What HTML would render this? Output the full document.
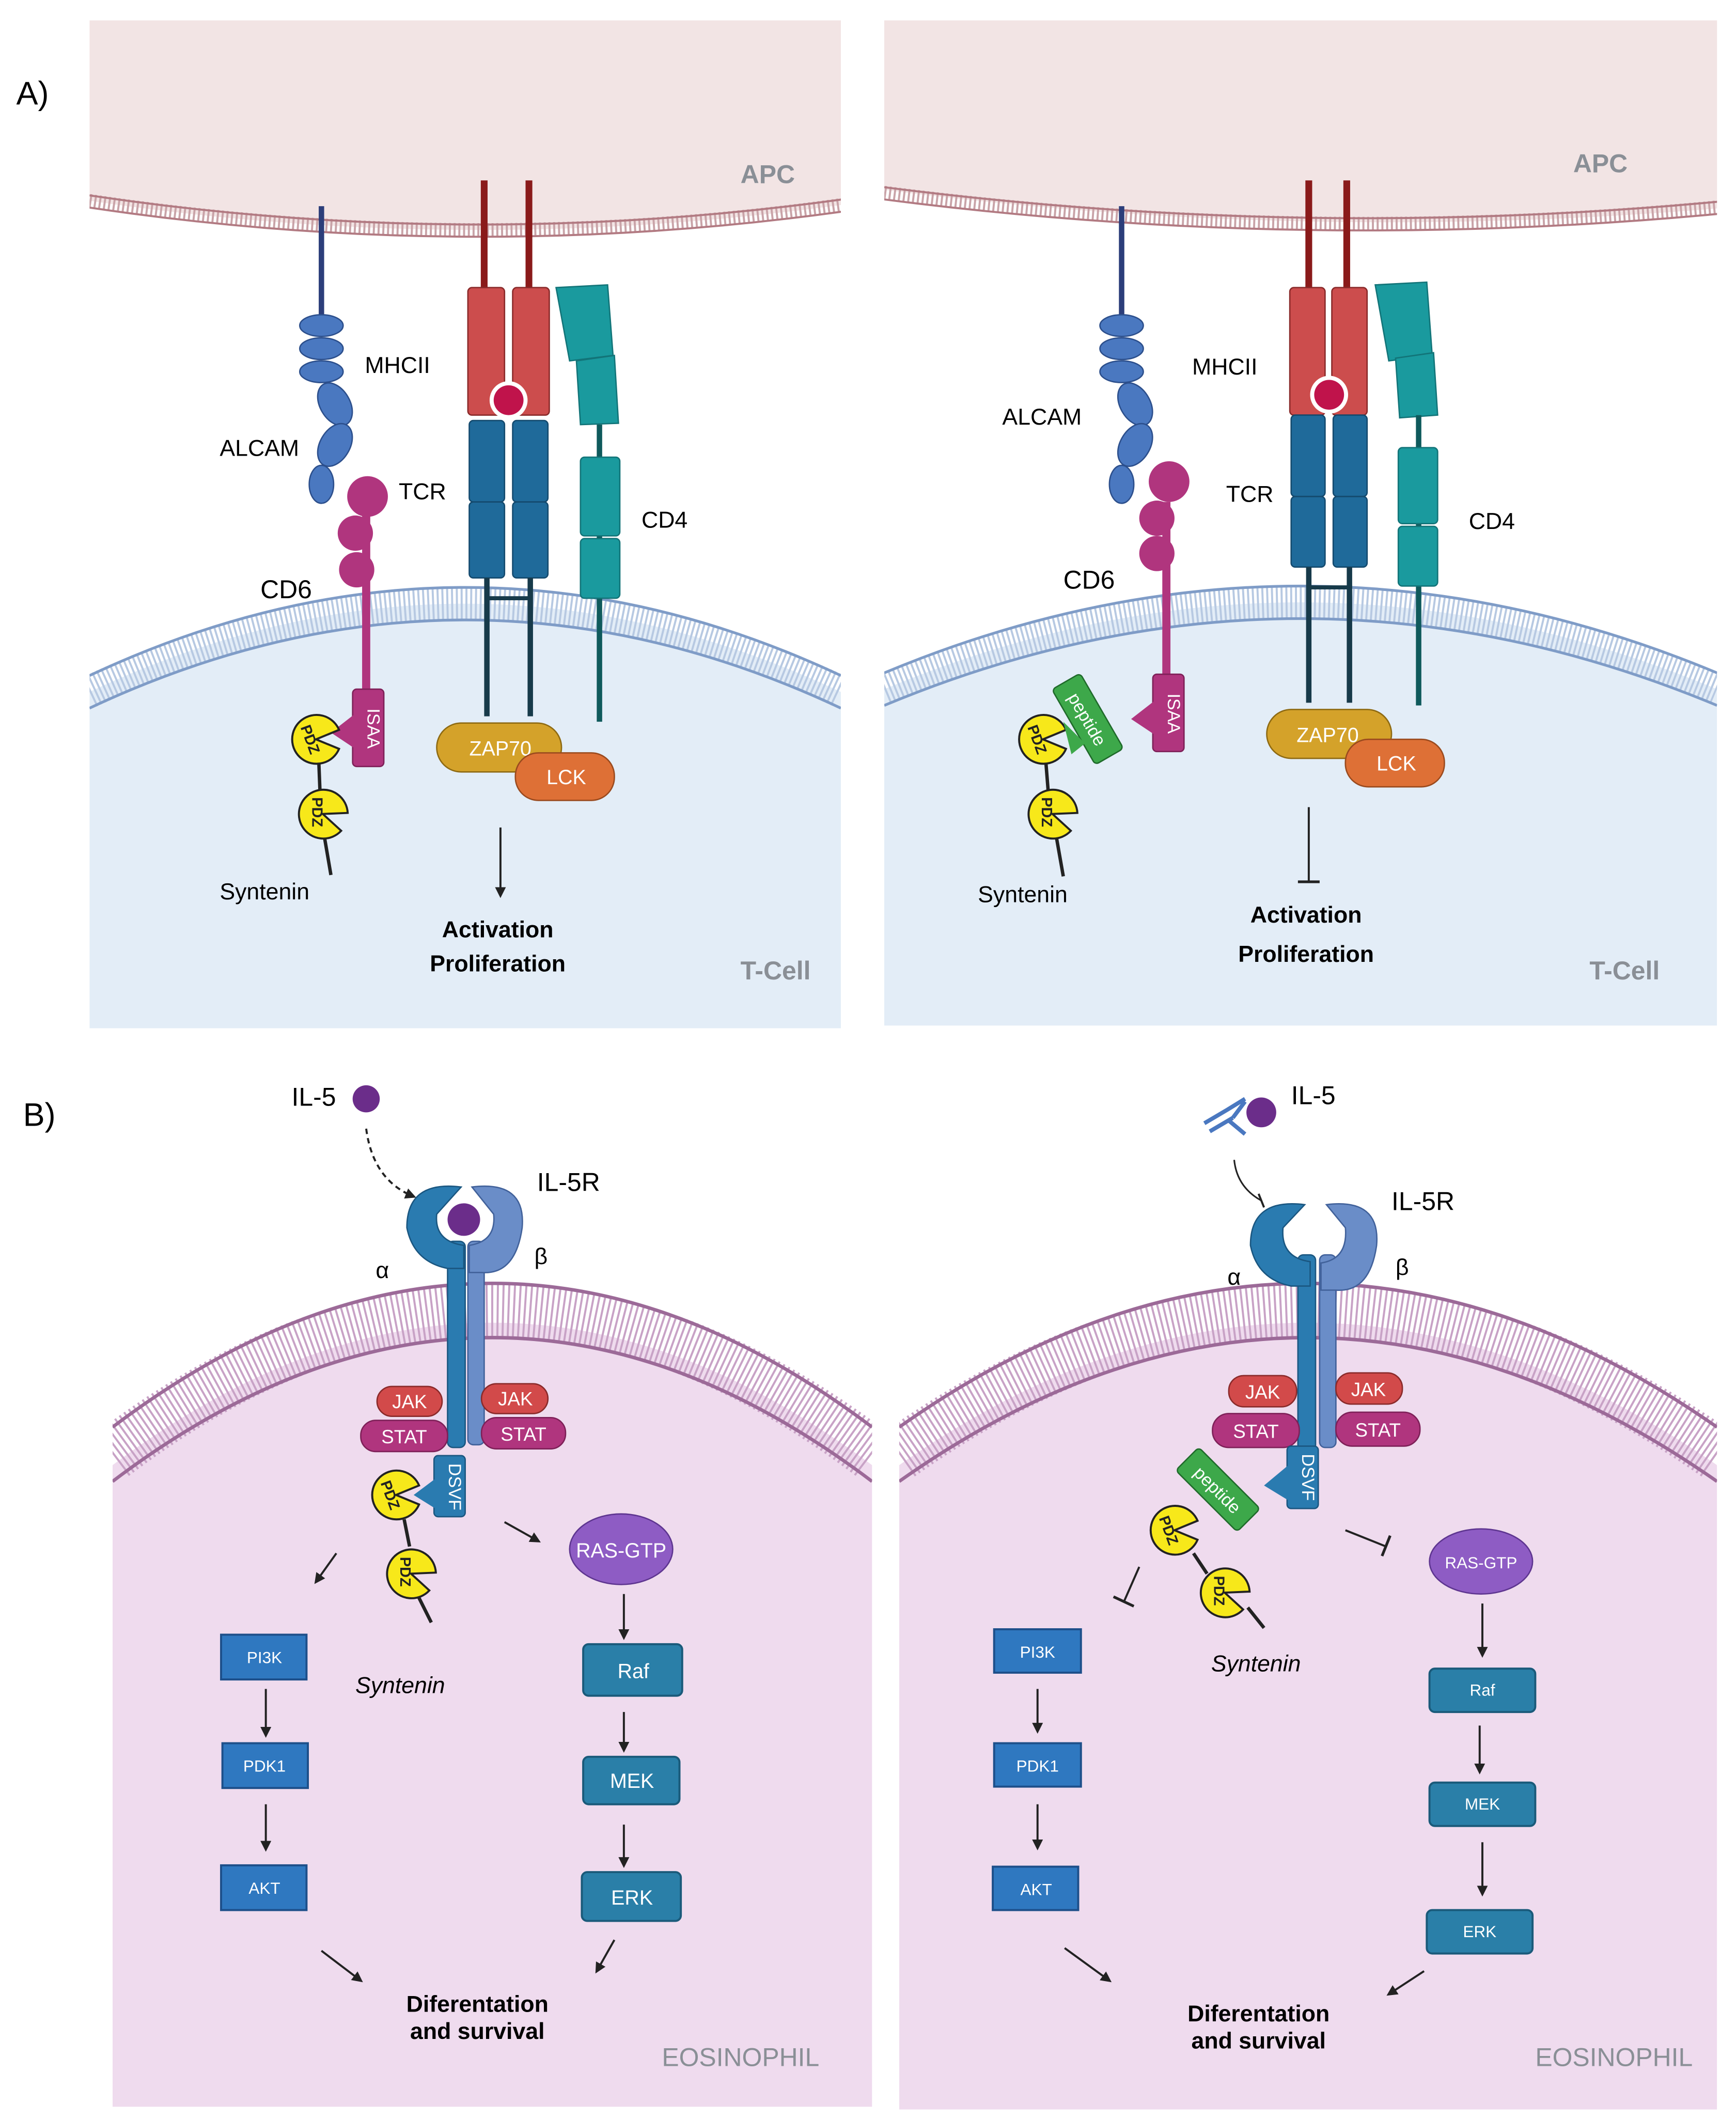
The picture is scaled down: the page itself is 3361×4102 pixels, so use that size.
<!DOCTYPE html>
<html><head><meta charset="utf-8"><style>
html,body{margin:0;padding:0;background:#fff;}
svg{display:block;}
text{font-family:"Liberation Sans",sans-serif;}
</style></head><body>
<svg width="3361" height="4102" viewBox="0 0 1280 1562" preserveAspectRatio="none" xmlns="http://www.w3.org/2000/svg">
<defs>
<g id="pdz">
  <path d="M0,0 L17,-7 A18,18 0 1 0 17,7 Z" fill="#f7e81a" stroke="#222" stroke-width="1.5"/>
  <text x="-4" y="4" font-size="11" font-weight="bold" fill="#222" transform="rotate(70 -4 0)" text-anchor="middle">PDZ</text>
</g>
<marker id="ar" markerWidth="8" markerHeight="8" refX="6" refY="4" orient="auto" markerUnits="userSpaceOnUse"><path d="M0,0 L8,4 L0,8 Z" fill="#222"/></marker>
<clipPath id="cA1"><rect x="66" y="15" width="554" height="743"/></clipPath>
<clipPath id="cA2"><rect x="652" y="15" width="614" height="741"/></clipPath>
<clipPath id="cB1"><rect x="83" y="800" width="560" height="753"/></clipPath>
<clipPath id="cB2"><rect x="663" y="800" width="603" height="755"/></clipPath>
</defs>

<!-- ============ PANEL A LEFT ============ -->
<g clip-path="url(#cA1)">
<path d="M66,510 Q343,380 620,510 V758 H66 Z" fill="#e3edf7"/>
<path d="M66,15 H628 V150 Q347,190 66,148 Z" fill="#f2e4e4"/>
<path d="M66,148 Q347,190 628,150" fill="none" stroke="#c9a3a8" stroke-width="10" stroke-dasharray="1.5 2"/>
<path d="M66,144 Q347,186 628,146" fill="none" stroke="#b27a82" stroke-width="1.5"/>
<path d="M66,153 Q347,195 628,155" fill="none" stroke="#b27a82" stroke-width="1.5"/>
<path d="M66,510 Q343,380 620,510" fill="none" stroke="#b7c9e2" stroke-width="24" stroke-dasharray="1.5 2"/>
<path d="M66,498 Q343,368 620,498" fill="none" stroke="#7f9cc7" stroke-width="2"/>
<path d="M66,522 Q343,392 620,522" fill="none" stroke="#7f9cc7" stroke-width="2"/>
</g>

<g>
<line x1="237" y1="152" x2="237" y2="232" stroke="#2c3e7a" stroke-width="4"/>
<g fill="#4a78c0" stroke="#2c4f8c" stroke-width="1">
<ellipse cx="237" cy="240" rx="16" ry="8"/><ellipse cx="237" cy="257" rx="16" ry="8"/><ellipse cx="237" cy="274" rx="16" ry="8"/>
<ellipse cx="247" cy="298" rx="11" ry="17" transform="rotate(-30 247 298)"/>
<ellipse cx="247" cy="328" rx="11" ry="17" transform="rotate(30 247 328)"/>
<ellipse cx="237" cy="357" rx="9" ry="14"/>
</g>
<text x="162" y="336" font-size="17">ALCAM</text>
<text x="269" y="275" font-size="17">MHCII</text>
<line x1="357" y1="133" x2="357" y2="214" stroke="#8a1a1a" stroke-width="5"/>
<line x1="390" y1="133" x2="390" y2="214" stroke="#8a1a1a" stroke-width="5"/>
<rect x="345" y="212" width="27" height="94" rx="3" fill="#cc4d4d" stroke="#8a2a2a"/>
<rect x="378" y="212" width="27" height="94" rx="3" fill="#cc4d4d" stroke="#8a2a2a"/>
<circle cx="375" cy="295" r="14" fill="#fff"/>
<circle cx="375" cy="295" r="11" fill="#c0134b"/>
<rect x="346" y="310" width="26" height="60" rx="3" fill="#1f6a9a" stroke="#144a6e"/>
<rect x="346" y="370" width="26" height="56" rx="3" fill="#1f6a9a" stroke="#144a6e"/>
<rect x="378" y="310" width="26" height="60" rx="3" fill="#1f6a9a" stroke="#144a6e"/>
<rect x="378" y="370" width="26" height="56" rx="3" fill="#1f6a9a" stroke="#144a6e"/>
<line x1="359" y1="426" x2="359" y2="528" stroke="#173a4a" stroke-width="4"/>
<line x1="391" y1="426" x2="391" y2="528" stroke="#173a4a" stroke-width="4"/>
<line x1="359" y1="441" x2="391" y2="441" stroke="#173a4a" stroke-width="3"/>
<text x="294" y="368" font-size="17">TCR</text>
<path d="M410,212 L448,210 L452,262 L420,266 Z" fill="#1a9a9e" stroke="#127478"/>
<path d="M425,266 L453,262 L456,312 L428,313 Z" fill="#1a9a9e" stroke="#127478"/>
<line x1="442" y1="313" x2="442" y2="532" stroke="#0f5a5c" stroke-width="4"/>
<rect x="428" y="337" width="29" height="58" rx="3" fill="#1a9a9e" stroke="#127478"/>
<rect x="428" y="397" width="29" height="44" rx="3" fill="#1a9a9e" stroke="#127478"/>
<text x="473" y="389" font-size="17">CD4</text>
<line x1="270" y1="380" x2="270" y2="512" stroke="#b0357e" stroke-width="6"/>
<circle cx="271" cy="366" r="15" fill="#b0357e"/><circle cx="262" cy="393" r="13" fill="#b0357e"/><circle cx="263" cy="420" r="13" fill="#b0357e"/>
<rect x="260" y="508" width="23" height="57" rx="3" fill="#b0357e" stroke="#7e2058"/>
<text x="271" y="537" font-size="13" fill="#fff" transform="rotate(90 271 537)" text-anchor="middle">ISAA</text>
<path d="M262,526 L244,540 L262,552 Z" fill="#b0357e"/>
<text x="192" y="441" font-size="19">CD6</text>
<line x1="238" y1="610" x2="244" y2="645" stroke="#222" stroke-width="2.5"/>
<line x1="235" y1="560" x2="236" y2="585" stroke="#222" stroke-width="2.5"/>
<use href="#pdz" transform="translate(233,545)"/>
<use href="#pdz" transform="translate(238,600) rotate(20)"/>
<text x="162" y="663" font-size="17">Syntenin</text>
<rect x="322" y="533" width="92" height="36" rx="18" fill="#d4a22a" stroke="#8e6a12"/>
<text x="346" y="557" font-size="15" fill="#fff">ZAP70</text>
<rect x="380" y="555" width="73" height="35" rx="17" fill="#de7036" stroke="#9a4a1e"/>
<text x="403" y="578" font-size="15" fill="#fff">LCK</text>
<line x1="369" y1="610" x2="369" y2="660" stroke="#222" stroke-width="1.5" marker-end="url(#ar)"/>
<text x="367" y="691" font-size="17" font-weight="bold" text-anchor="middle">Activation</text>
<text x="367" y="716" font-size="17" font-weight="bold" text-anchor="middle">Proliferation</text>
<text x="546" y="722" font-size="19" font-weight="bold" fill="#8a8f96">T-Cell</text>
<text x="546" y="135" font-size="19" font-weight="bold" fill="#8a8f96">APC</text>
<text x="12" y="77" font-size="24">A)</text>
</g>

<!-- ============ PANEL A RIGHT ============ -->
<g clip-path="url(#cA2)">
<path d="M652,508 Q959,380 1266,508 V756 H652 Z" fill="#e3edf7"/>
<path d="M652,15 H1274 V153 Q963,180 652,140 Z" fill="#f2e4e4"/>
<path d="M652,142 Q963,182 1274,152" fill="none" stroke="#c9a3a8" stroke-width="10" stroke-dasharray="1.5 2"/>
<path d="M652,138 Q963,178 1274,148" fill="none" stroke="#b27a82" stroke-width="1.5"/>
<path d="M652,147 Q963,187 1274,157" fill="none" stroke="#b27a82" stroke-width="1.5"/>
<path d="M652,508 Q959,380 1266,508" fill="none" stroke="#b7c9e2" stroke-width="24" stroke-dasharray="1.5 2"/>
<path d="M652,496 Q959,368 1266,496" fill="none" stroke="#7f9cc7" stroke-width="2"/>
<path d="M652,520 Q959,392 1266,520" fill="none" stroke="#7f9cc7" stroke-width="2"/>
</g>
<g transform="translate(590,0)">
<line x1="237" y1="152" x2="237" y2="232" stroke="#2c3e7a" stroke-width="4"/>
<g fill="#4a78c0" stroke="#2c4f8c" stroke-width="1">
<ellipse cx="237" cy="240" rx="16" ry="8"/><ellipse cx="237" cy="257" rx="16" ry="8"/><ellipse cx="237" cy="274" rx="16" ry="8"/>
<ellipse cx="247" cy="298" rx="11" ry="17" transform="rotate(-30 247 298)"/>
<ellipse cx="247" cy="328" rx="11" ry="17" transform="rotate(30 247 328)"/>
<ellipse cx="237" cy="357" rx="9" ry="14"/>
</g>
<line x1="270" y1="370" x2="270" y2="500" stroke="#b0357e" stroke-width="6"/>
<circle cx="272" cy="355" r="15" fill="#b0357e"/><circle cx="263" cy="382" r="13" fill="#b0357e"/><circle cx="263" cy="408" r="13" fill="#b0357e"/>
<rect x="260" y="497" width="23" height="57" rx="3" fill="#b0357e" stroke="#7e2058"/>
<text x="271" y="526" font-size="13" fill="#fff" transform="rotate(90 271 526)" text-anchor="middle">ISAA</text>
<path d="M262,516 L244,530 L262,542 Z" fill="#b0357e"/>
</g>
<text x="739" y="313" font-size="17">ALCAM</text>
<text x="879" y="276" font-size="17">MHCII</text>
<text x="784" y="434" font-size="19">CD6</text>
<g transform="translate(606,0)">
<line x1="359" y1="133" x2="359" y2="214" stroke="#8a1a1a" stroke-width="5"/>
<line x1="387" y1="133" x2="387" y2="214" stroke="#8a1a1a" stroke-width="5"/>
<rect x="345" y="212" width="26" height="94" rx="3" fill="#cc4d4d" stroke="#8a2a2a"/>
<rect x="376" y="212" width="26" height="94" rx="3" fill="#cc4d4d" stroke="#8a2a2a"/>
<circle cx="374" cy="291" r="14" fill="#fff"/><circle cx="374" cy="291" r="11" fill="#c0134b"/>
<rect x="346" y="306" width="25" height="60" rx="3" fill="#1f6a9a" stroke="#144a6e"/>
<rect x="346" y="366" width="25" height="52" rx="3" fill="#1f6a9a" stroke="#144a6e"/>
<rect x="377" y="306" width="25" height="60" rx="3" fill="#1f6a9a" stroke="#144a6e"/>
<rect x="377" y="366" width="25" height="52" rx="3" fill="#1f6a9a" stroke="#144a6e"/>
<line x1="359" y1="418" x2="359" y2="518" stroke="#173a4a" stroke-width="4"/>
<line x1="389" y1="418" x2="389" y2="518" stroke="#173a4a" stroke-width="4"/>
<line x1="359" y1="433" x2="389" y2="433" stroke="#173a4a" stroke-width="3"/>
<path d="M408,210 L446,208 L450,262 L418,266 Z" fill="#1a9a9e" stroke="#127478"/>
<path d="M423,264 L451,260 L454,306 L426,308 Z" fill="#1a9a9e" stroke="#127478"/>
<line x1="440" y1="306" x2="440" y2="520" stroke="#0f5a5c" stroke-width="4"/>
<rect x="425" y="330" width="29" height="56" rx="3" fill="#1a9a9e" stroke="#127478"/>
<rect x="425" y="388" width="29" height="44" rx="3" fill="#1a9a9e" stroke="#127478"/>
<rect x="328" y="523" width="92" height="36" rx="18" fill="#d4a22a" stroke="#8e6a12"/>
<text x="350" y="547" font-size="15" fill="#fff">ZAP70</text>
<rect x="386" y="545" width="73" height="35" rx="17" fill="#de7036" stroke="#9a4a1e"/>
<text x="409" y="568" font-size="15" fill="#fff">LCK</text>
</g>
<text x="904" y="370" font-size="17">TCR</text>
<text x="1083" y="390" font-size="17">CD4</text>
<line x1="778" y1="612" x2="784" y2="646" stroke="#222" stroke-width="2.5"/>
<line x1="771" y1="560" x2="773" y2="585" stroke="#222" stroke-width="2.5"/>
<use href="#pdz" transform="translate(769,545)"/>
<use href="#pdz" transform="translate(776,600) rotate(20)"/>
<g transform="rotate(60 802 530)"><rect x="770" y="518" width="64" height="24" rx="3" fill="#3da84a" stroke="#1f6a2a"/><text x="802" y="535" font-size="13" fill="#fff" text-anchor="middle">peptide</text></g>
<path d="M800,548 L784,532 L790,556 Z" fill="#3da84a"/>
<text x="721" y="665" font-size="17">Syntenin</text>
<line x1="965" y1="595" x2="965" y2="650" stroke="#222" stroke-width="1.5"/>
<line x1="957" y1="650" x2="973" y2="650" stroke="#222" stroke-width="2"/>
<text x="963" y="680" font-size="17" font-weight="bold" text-anchor="middle">Activation</text>
<text x="963" y="709" font-size="17" font-weight="bold" text-anchor="middle">Proliferation</text>
<text x="1172" y="722" font-size="19" font-weight="bold" fill="#8a8f96">T-Cell</text>
<text x="1160" y="127" font-size="19" font-weight="bold" fill="#8a8f96">APC</text>

<!-- ============ PANEL B LEFT ============ -->
<g clip-path="url(#cB1)">
<path d="M83,1080 Q363,870 643,1080 V1553 H83 Z" fill="#efdbee"/>
<path d="M83,1072 Q363,860 643,1072" fill="none" stroke="#c8a2c6" stroke-width="40" stroke-dasharray="1.5 2.5"/>
<path d="M83,1052 Q363,840 643,1052" fill="none" stroke="#9c6a98" stroke-width="2.5"/>
<path d="M83,1092 Q363,880 643,1092" fill="none" stroke="#9c6a98" stroke-width="2.5"/>
</g>
<text x="17" y="830" font-size="24">B)</text>
<text x="215" y="815" font-size="19">IL-5</text>
<circle cx="270" cy="810" r="10" fill="#6b2d8a"/>
<path d="M270,832 Q275,870 305,882" fill="none" stroke="#222" stroke-width="1.5" stroke-dasharray="4 3" marker-end="url(#ar)"/>
<text x="396" y="878" font-size="19">IL-5R</text>
<text x="277" y="942" font-size="17">α</text>
<text x="394" y="932" font-size="17">β</text>
<rect x="345" y="915" width="12" height="150" rx="4" fill="#6a8dc8" stroke="#41619a"/>
<rect x="330" y="915" width="13" height="152" rx="4" fill="#2a7bb0" stroke="#1a5680"/>
<path d="M340,875 Q300,870 300,905 Q305,930 330,935 L342,935 L342,918 Q320,915 322,895 Z" fill="#2a7bb0" stroke="#1a5680"/>
<path d="M348,875 Q388,870 385,905 Q380,940 355,938 L346,938 L346,918 Q366,915 364,895 Z" fill="#6a8dc8" stroke="#41619a"/>
<circle cx="342" cy="899" r="12" fill="#6b2d8a"/>
<rect x="278" y="1022" width="48" height="22" rx="11" fill="#d24a4a" stroke="#8a2a2a"/><text x="302" y="1038" font-size="14" fill="#fff" text-anchor="middle">JAK</text>
<rect x="266" y="1047" width="64" height="23" rx="11" fill="#b0357e" stroke="#7e2058"/><text x="298" y="1064" font-size="14" fill="#fff" text-anchor="middle">STAT</text>
<rect x="355" y="1020" width="49" height="22" rx="11" fill="#d24a4a" stroke="#8a2a2a"/><text x="380" y="1036" font-size="14" fill="#fff" text-anchor="middle">JAK</text>
<rect x="355" y="1045" width="62" height="23" rx="11" fill="#b0357e" stroke="#7e2058"/><text x="386" y="1062" font-size="14" fill="#fff" text-anchor="middle">STAT</text>
<rect x="320" y="1073" width="23" height="45" rx="3" fill="#2a7bb0" stroke="#1a5680"/>
<text x="331" y="1096" font-size="13" fill="#fff" transform="rotate(90 331 1096)" text-anchor="middle">DSVF</text>
<path d="M321,1090 L305,1102 L321,1112 Z" fill="#2a7bb0"/>
<line x1="305" y1="1170" x2="318" y2="1196" stroke="#222" stroke-width="2.5"/>
<line x1="298" y1="1120" x2="302" y2="1140" stroke="#222" stroke-width="2.5"/>
<use href="#pdz" transform="translate(292,1102)"/>
<use href="#pdz" transform="translate(303,1160) rotate(20)"/>
<text x="262" y="1248" font-size="17" font-style="italic">Syntenin</text>
<line x1="248" y1="1145" x2="233" y2="1166" stroke="#222" stroke-width="1.5" marker-end="url(#ar)"/>
<line x1="372" y1="1122" x2="397" y2="1136" stroke="#222" stroke-width="1.5" marker-end="url(#ar)"/>
<ellipse cx="458" cy="1142" rx="38" ry="26" fill="#8e5cc4" stroke="#5e3590"/>
<text x="458" y="1148" font-size="15" fill="#fff" text-anchor="middle">RAS-GTP</text>
<g fill="#2a7fa8" stroke="#1a5a7a" stroke-width="1.5">
<rect x="430" y="1212" width="73" height="38" rx="4"/><rect x="430" y="1295" width="71" height="35" rx="4"/><rect x="429" y="1380" width="73" height="36" rx="4"/>
</g>
<text x="467" y="1237" font-size="15" fill="#fff" text-anchor="middle">Raf</text>
<text x="466" y="1318" font-size="15" fill="#fff" text-anchor="middle">MEK</text>
<text x="466" y="1404" font-size="15" fill="#fff" text-anchor="middle">ERK</text>
<line x1="460" y1="1175" x2="460" y2="1207" stroke="#222" stroke-width="1.5" marker-end="url(#ar)"/>
<line x1="460" y1="1262" x2="460" y2="1290" stroke="#222" stroke-width="1.5" marker-end="url(#ar)"/>
<line x1="460" y1="1345" x2="460" y2="1375" stroke="#222" stroke-width="1.5" marker-end="url(#ar)"/>
<g fill="#2f78c0" stroke="#1d4f8a" stroke-width="1.5">
<rect x="163" y="1205" width="63" height="33"/><rect x="164" y="1285" width="63" height="33"/><rect x="163" y="1375" width="63" height="33"/>
</g>
<text x="195" y="1226" font-size="12" fill="#fff" text-anchor="middle">PI3K</text>
<text x="195" y="1306" font-size="12" fill="#fff" text-anchor="middle">PDK1</text>
<text x="195" y="1396" font-size="12" fill="#fff" text-anchor="middle">AKT</text>
<line x1="196" y1="1245" x2="196" y2="1279" stroke="#222" stroke-width="1.5" marker-end="url(#ar)"/>
<line x1="196" y1="1330" x2="196" y2="1363" stroke="#222" stroke-width="1.5" marker-end="url(#ar)"/>
<line x1="237" y1="1438" x2="266" y2="1460" stroke="#222" stroke-width="1.5" marker-end="url(#ar)"/>
<line x1="453" y1="1430" x2="440" y2="1453" stroke="#222" stroke-width="1.5" marker-end="url(#ar)"/>
<text x="352" y="1483" font-size="17" font-weight="bold" text-anchor="middle">Diferentation</text>
<text x="352" y="1503" font-size="17" font-weight="bold" text-anchor="middle">and survival</text>
<text x="488" y="1523" font-size="19" fill="#8a8f96">EOSINOPHIL</text>

<!-- ============ PANEL B RIGHT ============ -->
<g clip-path="url(#cB2)">
<path d="M663,1080 Q963,870 1266,1080 V1555 H663 Z" fill="#efdbee"/>
<path d="M663,1072 Q963,860 1266,1072" fill="none" stroke="#c8a2c6" stroke-width="40" stroke-dasharray="1.5 2.5"/>
<path d="M663,1052 Q963,840 1266,1052" fill="none" stroke="#9c6a98" stroke-width="2.5"/>
<path d="M663,1092 Q963,880 1266,1092" fill="none" stroke="#9c6a98" stroke-width="2.5"/>
</g>
<g stroke="#4a78c0" stroke-width="3" fill="none"><path d="M888,828 L905,818 M892,834 L909,824 M905,818 L918,810 M909,824 L918,812 M906,826 L918,836"/></g>
<circle cx="930" cy="820" r="11" fill="#6b2d8a"/>
<text x="952" y="814" font-size="19">IL-5</text>
<path d="M910,855 Q912,875 930,885" fill="none" stroke="#222" stroke-width="1.2"/>
<line x1="928" y1="880" x2="932" y2="890" stroke="#222" stroke-width="1.5"/>
<text x="1026" y="892" font-size="19">IL-5R</text>
<text x="905" y="947" font-size="17">α</text>
<text x="1029" y="940" font-size="17">β</text>
<rect x="973" y="925" width="12" height="142" rx="4" fill="#6a8dc8" stroke="#41619a"/>
<rect x="957" y="925" width="13" height="144" rx="4" fill="#2a7bb0" stroke="#1a5680"/>
<path d="M962,888 Q922,883 922,918 Q927,943 952,948 L966,948 L966,930 Q944,927 946,905 Z" fill="#2a7bb0" stroke="#1a5680"/>
<path d="M978,888 Q1018,883 1015,918 Q1010,953 985,951 L974,951 L974,931 Q994,928 992,905 Z" fill="#6a8dc8" stroke="#41619a"/>
<rect x="906" y="1014" width="50" height="23" rx="11" fill="#d24a4a" stroke="#8a2a2a"/><text x="931" y="1031" font-size="14" fill="#fff" text-anchor="middle">JAK</text>
<rect x="894" y="1042" width="64" height="25" rx="12" fill="#b0357e" stroke="#7e2058"/><text x="926" y="1060" font-size="14" fill="#fff" text-anchor="middle">STAT</text>
<rect x="985" y="1012" width="49" height="23" rx="11" fill="#d24a4a" stroke="#8a2a2a"/><text x="1009" y="1029" font-size="14" fill="#fff" text-anchor="middle">JAK</text>
<rect x="985" y="1041" width="62" height="25" rx="12" fill="#b0357e" stroke="#7e2058"/><text x="1016" y="1059" font-size="14" fill="#fff" text-anchor="middle">STAT</text>
<rect x="949" y="1066" width="23" height="46" rx="3" fill="#2a7bb0" stroke="#1a5680"/>
<text x="960" y="1089" font-size="13" fill="#fff" transform="rotate(90 960 1089)" text-anchor="middle">DSVF</text>
<path d="M950,1080 L932,1095 L950,1106 Z" fill="#2a7bb0"/>
<g transform="rotate(45 898 1098)"><rect x="866" y="1086" width="64" height="24" rx="3" fill="#3da84a" stroke="#1f6a2a"/><text x="898" y="1103" font-size="13" fill="#fff" text-anchor="middle">peptide</text></g>
<line x1="880" y1="1145" x2="890" y2="1160" stroke="#222" stroke-width="2.5"/>
<line x1="920" y1="1185" x2="932" y2="1200" stroke="#222" stroke-width="2.5"/>
<use href="#pdz" transform="translate(866,1128)"/>
<use href="#pdz" transform="translate(903,1174) rotate(20)"/>
<text x="893" y="1232" font-size="17" font-style="italic">Syntenin</text>
<line x1="840" y1="1155" x2="829" y2="1180" stroke="#222" stroke-width="1.5"/><line x1="821" y1="1177" x2="836" y2="1184" stroke="#222" stroke-width="2"/>
<line x1="992" y1="1128" x2="1022" y2="1140" stroke="#222" stroke-width="1.5"/><line x1="1025" y1="1132" x2="1019" y2="1147" stroke="#222" stroke-width="2"/>
<ellipse cx="1092" cy="1151" rx="38" ry="24" fill="#8e5cc4" stroke="#5e3590"/>
<text x="1092" y="1156" font-size="12" fill="#fff" text-anchor="middle">RAS-GTP</text>
<g fill="#2a7fa8" stroke="#1a5a7a" stroke-width="1.5">
<rect x="1054" y="1230" width="78" height="32" rx="4"/><rect x="1054" y="1314" width="78" height="32" rx="4"/><rect x="1052" y="1408" width="78" height="32" rx="4"/>
</g>
<text x="1093" y="1250" font-size="12" fill="#fff" text-anchor="middle">Raf</text>
<text x="1093" y="1334" font-size="12" fill="#fff" text-anchor="middle">MEK</text>
<text x="1091" y="1428" font-size="12" fill="#fff" text-anchor="middle">ERK</text>
<line x1="1093" y1="1182" x2="1093" y2="1220" stroke="#222" stroke-width="1.5" marker-end="url(#ar)"/>
<line x1="1091" y1="1272" x2="1091" y2="1306" stroke="#222" stroke-width="1.5" marker-end="url(#ar)"/>
<line x1="1093" y1="1358" x2="1093" y2="1396" stroke="#222" stroke-width="1.5" marker-end="url(#ar)"/>
<g fill="#2f78c0" stroke="#1d4f8a" stroke-width="1.5">
<rect x="733" y="1201" width="64" height="32"/><rect x="733" y="1285" width="64" height="32"/><rect x="732" y="1376" width="63" height="32"/>
</g>
<text x="765" y="1222" font-size="12" fill="#fff" text-anchor="middle">PI3K</text>
<text x="765" y="1306" font-size="12" fill="#fff" text-anchor="middle">PDK1</text>
<text x="764" y="1397" font-size="12" fill="#fff" text-anchor="middle">AKT</text>
<line x1="765" y1="1245" x2="765" y2="1276" stroke="#222" stroke-width="1.5" marker-end="url(#ar)"/>
<line x1="765" y1="1330" x2="765" y2="1362" stroke="#222" stroke-width="1.5" marker-end="url(#ar)"/>
<line x1="785" y1="1436" x2="818" y2="1460" stroke="#222" stroke-width="1.5" marker-end="url(#ar)"/>
<line x1="1050" y1="1453" x2="1024" y2="1470" stroke="#222" stroke-width="1.5" marker-end="url(#ar)"/>
<text x="928" y="1490" font-size="17" font-weight="bold" text-anchor="middle">Diferentation</text>
<text x="928" y="1510" font-size="17" font-weight="bold" text-anchor="middle">and survival</text>
<text x="1132" y="1523" font-size="19" fill="#8a8f96">EOSINOPHIL</text>
</svg>
</body></html>
